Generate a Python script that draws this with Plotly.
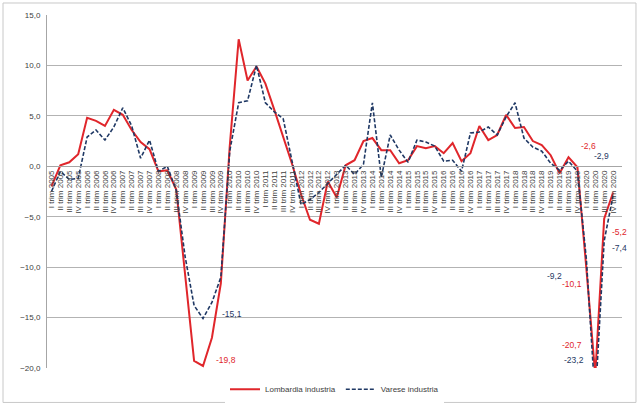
import plotly.graph_objects as go

# quarter labels, I trim 2005 .. IV trim 2020
quarters = ["I", "II", "III", "IV"]
years = list(range(2005, 2021))
categories = [f"{q} trim {y}" for y in years for q in quarters]

lombardia = [
    -2.0, 0.1, 0.4, 1.2, 4.8, 4.5, 4.0, 5.6,
    5.1, 3.6, 2.4, 1.7, -0.5, -0.4, -2.3, -10.5,
    -19.3, -19.8, -17.0, -11.6, 2.0, 12.6, 8.5, 9.9,
    8.2, 5.6, 3.0, 0.2, -2.8, -5.3, -5.7, -1.5,
    -3.1, 0.1, 0.6, 2.5, 2.8, 1.6, 1.6, 0.3,
    0.6, 2.0, 1.8, 2.0, 1.3, 2.3, 0.5, 1.3,
    4.0, 2.6, 3.1, 5.1, 3.8, 3.9, 2.5, 2.1,
    1.1, -0.7, 0.9, -0.1, -10.1, -20.7, -5.2, -2.6,
]
varese = [
    -2.5, -0.5, -1.3, -1.2, 2.9, 3.6, 2.6, 3.9,
    5.8, 4.0, 0.8, 2.6, -0.5, 0.0, -2.4, -9.0,
    -13.8, -15.1, -13.5, -11.0, 1.5, 6.3, 6.5, 10.0,
    6.3, 5.4, 4.7, 0.6, -3.8, -3.3, -2.6, -1.7,
    -0.8, 0.1, -0.8, 0.2, 6.3, -1.1, 3.1, 1.6,
    0.4, 2.6, 2.4, 2.0, 0.5, 0.6, -0.5, 3.3,
    3.4, 3.9, 3.1, 4.9, 6.3, 2.8, 1.9, 1.5,
    0.3, -0.4, 0.5, -0.5, -9.2, -23.2, -7.4, -2.9,
]

RED = "#e0262b"
BLUE = "#1f3864"
GREY = "#404040"
Y_MIN, Y_MAX = -20, 15

fig = go.Figure()
fig.add_trace(go.Scatter(
    x=categories, y=lombardia, name="Lombardia industria", mode="lines",
    line=dict(color=RED, width=2),
))
fig.add_trace(go.Scatter(
    x=categories, y=varese, name="Varese industria", mode="lines",
    line=dict(color=BLUE, width=1.6, dash="4px,2px"),
))

# value labels: (series, index, x shift px, y shift px)
labels = [
    (varese, 17, 29, 5),
    (lombardia, 17, 23, 6),
    (varese, 60, -32, -17),
    (lombardia, 60, -14, -16),
    (lombardia, 61, -23, 23),
    (varese, 61, -21, 8),
    (lombardia, 63, -25, 47),
    (varese, 63, -12, 40),
    (lombardia, 62, 15, -13),
    (varese, 62, 15, -7),
]
for series, i, dx, dy in labels:
    v = series[i]
    fig.add_annotation(
        x=i, y=max(v, Y_MIN), xref="x", yref="y",
        text=f"{v:.1f}".replace(".", ","), showarrow=False,
        xshift=dx, yshift=dy,
        font=dict(size=8.5, color=RED if series is lombardia else BLUE,
                  family="Liberation Sans"),
    )

zero_pos = (0 - Y_MIN) / (Y_MAX - Y_MIN)

fig.update_layout(
    width=640, height=409,
    margin=dict(l=47, r=18, t=15, b=40.5, autoexpand=False),
    paper_bgcolor="white", plot_bgcolor="white",
    separators=",.",
    font=dict(family="Liberation Sans", color=GREY, size=8),
    showlegend=True,
    legend=dict(orientation="h", x=0.5, xanchor="center", y=-0.06,
                yanchor="middle", font=dict(size=8, color=GREY),
                itemwidth=30),
    xaxis=dict(
        type="category", range=[-0.5, 64], anchor="free", position=zero_pos,
        tickmode="array", tickvals=categories, ticktext=categories,
        tickangle=-90, showgrid=False, showline=True, linecolor="#a6a6a6",
        linewidth=1, ticks="", tickfont=dict(size=8, color=GREY,
        family="Liberation Sans Narrow, Liberation Sans, Arial"),
        zeroline=False,
    ),
    yaxis=dict(
        range=[Y_MIN, Y_MAX], dtick=5, tickformat=".1f",
        showgrid=True, gridcolor="#b3b3b3", gridwidth=1,
        showline=True, linecolor="#a6a6a6", linewidth=1,
        zeroline=False, tickfont=dict(size=8, color=GREY),
        ticklabelstandoff=4,
    ),
    shapes=[dict(
        type="rect", xref="paper", yref="paper",
        x0=-0.0765, x1=1.0243, y0=-0.0976, y1=1.034,
        line=dict(color="#c8c8c8", width=1), fillcolor="rgba(0,0,0,0)",
        layer="below",
    )],
)

# drop the default body margin so the 640x409 figure fills the window
fig.write_html(
    "out.html",
    config={"displayModeBar": False},
    post_script="document.body.style.margin='0';",
)
